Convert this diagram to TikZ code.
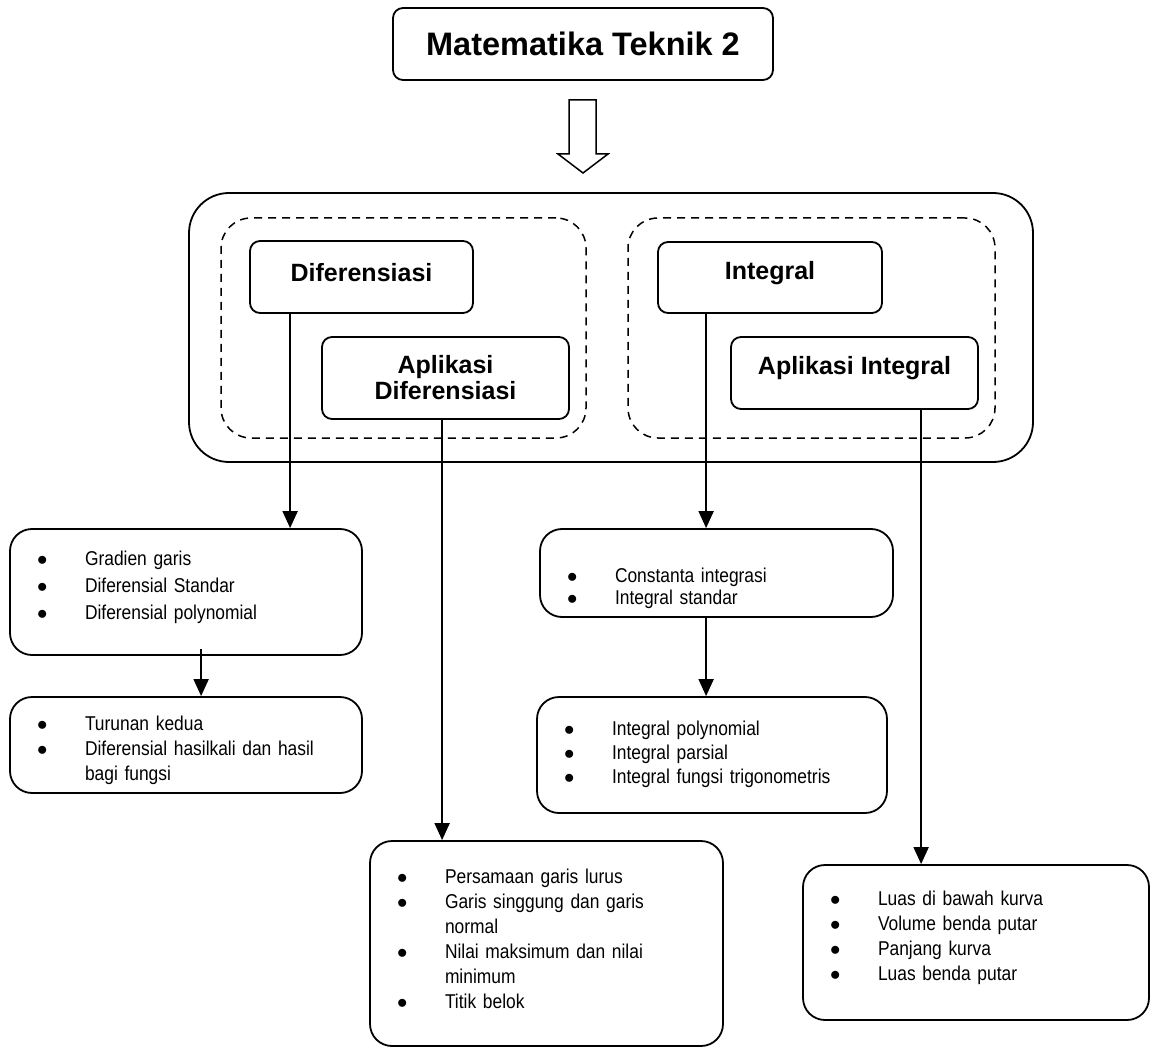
\documentclass[tikz,border=0pt]{standalone}
\usepackage{fontspec}
\setmainfont{Liberation Sans}
\newfontfamily\narrowsans[FakeStretch=0.87]{Liberation Sans}
\usetikzlibrary{arrows.meta}

\newcommand{\bul}{{\fontsize{22pt}{22pt}\selectfont$\bullet$}}
\newcommand{\lst}[2][0pt]{\raisebox{#1}[\height][\depth]{\begin{tabular}{@{\hspace{27pt}}p{48pt}@{}l@{}}#2\end{tabular}}}

\begin{document}
\begin{tikzpicture}[x=1pt, y=-1pt, line width=1.8pt,
    hdr/.style={draw, rounded corners=10pt, inner sep=0pt, align=center,
      font=\bfseries\fontsize{25pt}{26pt}\selectfont},
    grp/.style={draw, rounded corners=30pt, dash pattern=on 8pt off 6pt,
      line width=1.5pt, inner sep=0pt},
    lstbox/.style={draw, rounded corners=22pt, inner sep=0pt, align=left,
      font=\narrowsans\fontsize{20pt}{25pt}\selectfont},
    arr/.style={-{Triangle[length=17pt,width=15pt]}}]
        \useasboundingbox (0,0) rectangle (1151,1048);

        % top
        \node[draw, rounded corners=10pt, inner sep=0pt, minimum width=380pt, minimum height=72pt,
          font=\bfseries\fontsize{32.5pt}{32.5pt}\selectfont] (mt) at (583,44) {Matematika Teknik 2};
        \draw[line width=1.5pt] (569,100) -- (596,100) -- (596,154) -- (608,154)
          -- (583,173) -- (558,154) -- (569,154) -- cycle;

        % core topics
        \node[draw, rounded corners=40pt, inner sep=0pt, minimum width=844pt, minimum height=269pt] (core) at (611,327.5) {};
        \node[grp, minimum width=365pt, minimum height=220pt] (dgrp) at (403.5,328) {};
        \node[grp, minimum width=367pt, minimum height=220pt] (igrp) at (811.5,328) {};

        \node[hdr, minimum width=223pt, minimum height=72pt] (dif) at (361.5,277) {\raisebox{4pt}[\height][\depth]{Diferensiasi}};
        \node[hdr, minimum width=247pt, minimum height=82pt] (apd) at (445.5,378) {Aplikasi\\Diferensiasi};
        \node[hdr, minimum width=224pt, minimum height=71pt] (int) at (770,277.5) {\raisebox{4pt}[\height][\depth]{Integral}};
        \node[hdr, minimum width=247pt, minimum height=72pt] (api) at (854.5,373) {\raisebox{5pt}[\height][\depth]{Aplikasi Integral}};

        % sub topics
        \node[lstbox, text width=352pt, minimum height=126pt] (grd) at (186,592)
          {\renewcommand\arraystretch{1.08}\lst[5pt]{\bul & Gradien garis\\ \bul & Diferensial Standar\\ \bul & Diferensial polynomial}};
        \node[lstbox, text width=352pt, minimum height=96pt] (tur) at (186,745)
          {\lst[-5pt]{\bul & Turunan kedua\\ \bul & Diferensial hasilkali dan hasil\\ & bagi fungsi}};
        \node[lstbox, text width=353pt, minimum height=205pt] (prs) at (546.5,943.5)
          {\lst[3pt]{\bul & Persamaan garis lurus\\ \bul & Garis singgung dan garis\\ & normal\\
            \bul & Nilai maksimum dan nilai\\ & minimum\\ \bul & Titik belok}};
        \node[lstbox, text width=353pt, minimum height=88pt] (cst) at (716.5,573)
          {\renewcommand\arraystretch{0.88}\lst[-16pt]{\bul & Constanta integrasi\\ \bul & Integral standar}};
        \node[lstbox, text width=350pt, minimum height=116pt] (ipl) at (712,755)
          {\renewcommand\arraystretch{0.96}\lst{\bul & Integral polynomial\\ \bul & Integral parsial\\ \bul & Integral fungsi trigonometris}};
        \node[lstbox, text width=346pt, minimum height=155pt] (lua) at (976,942.5)
          {\lst[5pt]{\bul & Luas di bawah kurva\\ \bul & Volume benda putar\\ \bul & Panjang kurva\\ \bul & Luas benda putar}};

        \draw[arr] ([xshift=41pt]dif.south west) -- ([xshift=281pt]grd.north west);
        \draw[arr] ([xshift=192pt,yshift=7pt]grd.south west) -- ([xshift=192pt]tur.north west);
        \draw[arr] ([xshift=121pt]apd.south west) -- ([xshift=73pt]prs.north west);
        \draw[arr] ([xshift=49pt]int.south west) -- ([xshift=167pt]cst.north west);
        \draw[arr] ([xshift=167pt]cst.south west) -- ([xshift=170pt]ipl.north west);
        \draw[arr] ([xshift=191pt]api.south west) -- ([xshift=119pt]lua.north west);
\end{tikzpicture}
\end{document}
